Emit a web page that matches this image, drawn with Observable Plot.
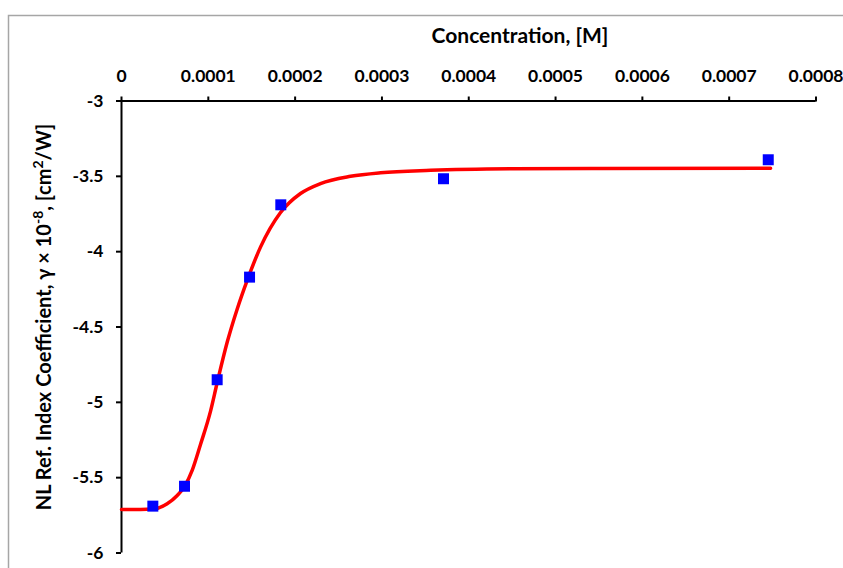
<!DOCTYPE html>
<html>
<head>
<meta charset="utf-8">
<script src="https://cdn.jsdelivr.net/npm/d3@7"></script>
<script src="https://cdn.jsdelivr.net/npm/@observablehq/plot@0.6"></script>
<style>
  html, body { margin: 0; padding: 0; background: #fff; overflow: hidden; }
  #chart { position: relative; width: 843px; height: 568px; }
</style>
</head>
<body>
<div id="chart"></div>
<script>
// Measured data points (concentration in M, gamma x 1e-8 cm^2/W)
const concentration = [3.61e-5, 7.26e-5, 1.102e-4, 1.475e-4, 1.835e-4, 3.709e-4, 7.45e-4];
const gamma = [-5.689, -5.557, -4.850, -4.169, -3.689, -3.516, -3.390];

// Fitted curve
const fitX = [0, 2.19e-5, 3.69e-5, 5.26e-5, 6.42e-5, 7.26e-5, 8.14e-5, 9.10e-5, 1.025e-4, 1.102e-4, 1.218e-4, 1.333e-4, 1.448e-4, 1.601e-4, 1.832e-4, 2.062e-4, 2.292e-4, 2.638e-4, 2.984e-4, 3.560e-4, 4.516e-4, 5.518e-4, 7.477e-4];
const fitY = [-5.711, -5.711, -5.708, -5.673, -5.618, -5.559, -5.452, -5.28, -5.06, -4.87, -4.60, -4.38, -4.19, -3.97, -3.740, -3.614, -3.548, -3.500, -3.476, -3.460, -3.450, -3.448, -3.446];

const xTicks = [0, 0.0001, 0.0002, 0.0003, 0.0004, 0.0005, 0.0006, 0.0007, 0.0008];
const xTickLabels = ["0", "0.0001", "0.0002", "0.0003", "0.0004", "0.0005", "0.0006", "0.0007", "0.0008"];
const yTicks = [-3, -3.5, -4, -4.5, -5, -5.5, -6];
const yTickLabels = ["-3", "-3.5", "-4", "-4.5", "-5", "-5.5", "-6"];

const xTitle = "Concentration, [M]";

const points = concentration.map((c, i) => ({x: c, y: gamma[i]}));
const fit = fitX.map((c, i) => ({x: c, y: fitY[i]}));

const FONT = "Lato, 'Open Sans', sans-serif";

const plot = Plot.plot({
  width: 843,
  height: 568,
  marginLeft: 121,
  marginRight: 27.5,
  marginTop: 100.5,
  marginBottom: 15.5,
  x: {domain: [0, 0.0008]},
  y: {domain: [-6, -3]},
  style: {fontFamily: FONT, fontWeight: "bold", fontSize: "17.5px", color: "#000", background: "#fff"},
  marks: [
    Plot.axisX(xTicks, {anchor: "top", tickSize: 5, tickPadding: 14, strokeWidth: 2,
      tickFormat: d => xTickLabels[xTicks.indexOf(d)], label: null}),
    Plot.axisY(yTicks, {anchor: "left", tickSize: 5, tickPadding: 13, strokeWidth: 2,
      tickFormat: d => yTickLabels[yTicks.indexOf(d)], label: null}),
    Plot.ruleY([-3], {stroke: "#000", strokeWidth: 2}),
    Plot.ruleX([0], {stroke: "#000", strokeWidth: 2}),
    Plot.line(fit, {x: "x", y: "y", stroke: "#ff0000", strokeWidth: 3.5, curve: "monotone-x"}),
    Plot.dot(points, {x: "x", y: "y", symbol: "square", fill: "#0000ff", r: 6.2})
  ]
});

document.getElementById("chart").appendChild(plot);

const svg = d3.select(plot);
// outer chart border
svg.insert("rect", ":first-child")
  .attr("x", 8.5).attr("y", 15.5).attr("width", 900).attr("height", 600)
  .attr("fill", "none").attr("stroke", "#a6a6a6").attr("stroke-width", 1.5);

// x axis title
svg.append("text")
  .attr("x", 520).attr("y", 42.5)
  .attr("text-anchor", "middle")
  .style("font-family", FONT).style("font-weight", "bold").style("font-size", "21px")
  .attr("fill", "#000")
  .text(xTitle);

// y axis title with superscripts
const yt = svg.append("text")
  .attr("transform", "translate(51,317) rotate(-90)")
  .attr("text-anchor", "middle")
  .style("font-family", FONT).style("font-weight", "bold").style("font-size", "20px")
  .attr("fill", "#000");
yt.append("tspan").text("NL Ref. Index Coefficient, \u03b3 \u00d7 10");
yt.append("tspan").attr("baseline-shift", "super").style("font-size", "14px").text("-8");
yt.append("tspan").text(", [cm");
yt.append("tspan").attr("baseline-shift", "super").style("font-size", "14px").text("2");
yt.append("tspan").text("/W]");
</script>
</body>
</html>
